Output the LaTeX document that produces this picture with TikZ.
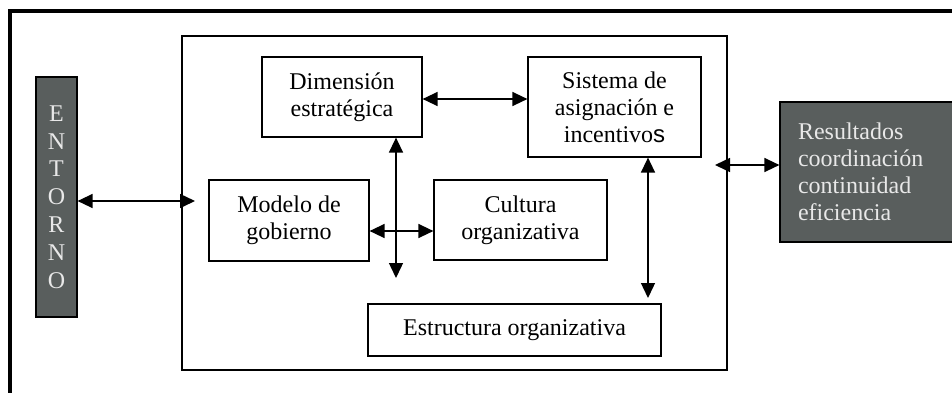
\documentclass[tikz,border=0pt]{standalone}
\usepackage{fontspec}
\setmainfont{Liberation Serif}
\setsansfont{Liberation Sans}
\usepackage{tikz}
\usetikzlibrary{arrows.meta, positioning, calc}
\definecolor{boxgray}{RGB}{89,94,93}
\definecolor{boxtext}{RGB}{232,232,232}

\begin{document}
\begin{tikzpicture}[x=0.5pt, y=-0.5pt,
  box/.style={draw, line width=0.6pt, align=center, inner sep=0pt, font=\fontsize{12}{13.5}\selectfont},
  darkbox/.style={box, fill=boxgray, text=boxtext},
  link/.style={{Triangle[length=7.5pt,width=7pt]}-{Triangle[length=7.5pt,width=7pt]}, line width=0.7pt}]
\useasboundingbox (0,0) rectangle (952,392);
\clip (0,0) rectangle (952,392);
% outer frame, cut by the page edge
\draw[line width=2pt] (10,11) rectangle (1000,430);
\node[draw, line width=0.6pt, minimum width=272.5pt, minimum height=167pt] (frame) at (454.5,203) {};

\node[darkbox, minimum width=20.5pt, minimum height=120pt, font=\fontsize{12}{13.9}\selectfont] (entorno) at (56.5,197) {E\\N\\T\\O\\R\\N\\O};
\node[box, minimum width=80pt, minimum height=40pt] (dim) at (342,97) {Dimensión\\estratégica};
\node[box, minimum width=86.5pt, minimum height=50pt] (sis) at (614.5,107) {Sistema de\\asignación e\\incentivo\textsf{s}};
\node[box, minimum width=80pt, minimum height=40.5pt] (mod) at (289,220.5) {Modelo de\\gobierno};
\node[box, minimum width=86.5pt, minimum height=40pt] (cul) at (520.5,220) {Cultura\\organizativa};
\node[box, minimum width=146.5pt, minimum height=26pt] (est) at (514.5,330) {Estructura organizativa};
\node[darkbox, align=left, text width=79.5pt, inner xsep=9pt, minimum height=70pt] (res) at (877.5,172) {Resultados\\coordinación\\continuidad\\eficiencia};

% connectors
\coordinate (inL) at (195,201);
\coordinate (vdown) at (396,278);
\coordinate (sisdn) at (648,298);
\coordinate (frR) at (715,165);
\draw[link] (entorno.east |- inL) -- (inL);
\draw[link] ([yshift=-1pt]dim.east) -- ([yshift=-1pt]dim.east -| sis.west);
\draw[link] (vdown |- dim.south) -- (vdown);
\draw[link] ([yshift=-5.25pt]mod.east) -- ([yshift=-5.25pt]mod.east -| cul.west);
\draw[link] (sisdn |- sis.south) -- (sisdn);
\draw[link] (frR) -- (frR -| res.west);
\end{tikzpicture}
\end{document}
